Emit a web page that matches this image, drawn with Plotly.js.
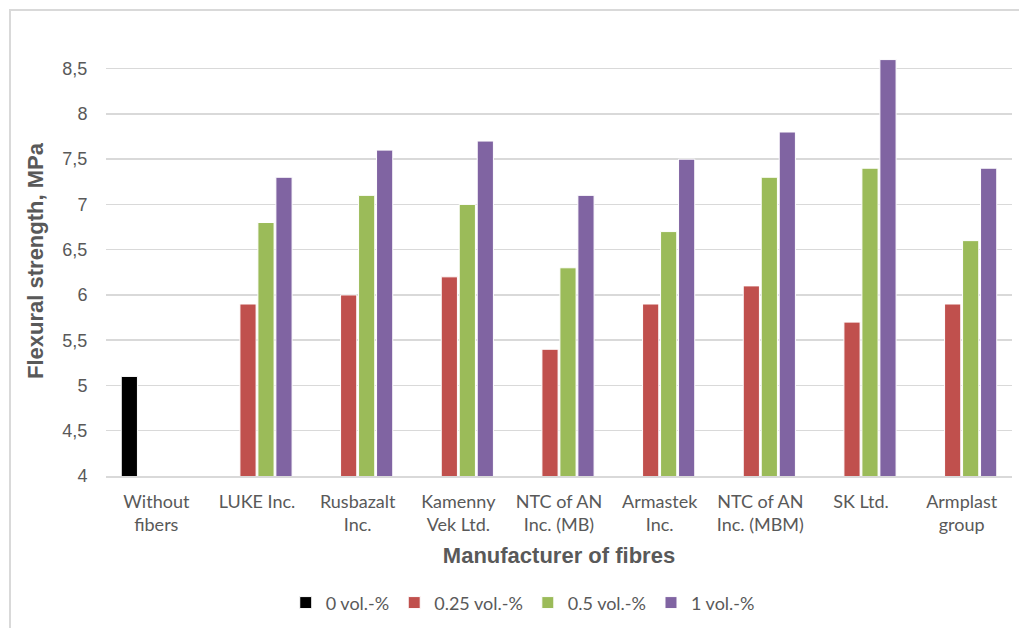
<!DOCTYPE html>
<html>
<head>
<meta charset="utf-8">
<script src="https://cdn.plot.ly/plotly-3.0.1.min.js"></script>
<style>html,body{margin:0;padding:0;background:#fff;}#chart{width:1019px;height:628px;}</style>
</head>
<body>
<div id="chart"></div>
<script>
const categories = ["Without<br>fibers", "LUKE Inc.", "Rusbazalt<br>Inc.", "Kamenny<br>Vek Ltd.", "NTC of AN<br>Inc. (MB)", "Armastek<br>Inc.", "NTC of AN<br>Inc. (MBM)", "SK Ltd.", "Armplast<br>group"];
const seriesNames = ["0 vol.-%", "0.25 vol.-%", "0.5 vol.-%", "1 vol.-%"];
const vol0   = [5.1, null, null, null, null, null, null, null, null];
const vol025 = [null, 5.9, 6.0, 6.2, 5.4, 5.9, 6.1, 5.7, 5.9];
const vol05  = [null, 6.8, 7.1, 7.0, 6.3, 6.7, 7.3, 7.4, 6.6];
const vol1   = [null, 7.3, 7.6, 7.7, 7.1, 7.5, 7.8, 8.6, 7.4];
const yTicks = [4, 4.5, 5, 5.5, 6, 6.5, 7, 7.5, 8, 8.5];
const colors = ["#000000", "#C0504D", "#9BBB59", "#8064A2"];

const allSeries = [vol0, vol025, vol05, vol1];
const traces = allSeries.map((vals, i) => ({
  type: "bar",
  name: seriesNames[i],
  x: categories,
  y: vals,
  base: 0,
  marker: {color: colors[i], line: {color: "#ffffff", width: 1}},
  hoverinfo: "x+y+name"
}));

const mL = 106, mR = 7, mT = 46, mB = 152, W = 1019, H = 628;
const pw = W - mL - mR, ph = H - mT - mB;
const px = v => (v - mL) / pw;
const py = v => (H - mB - v) / ph;

const layout = {
  width: W, height: H,
  margin: {l: mL, r: mR, t: mT, b: mB, pad: 0},
  paper_bgcolor: "#ffffff",
  plot_bgcolor: "#ffffff",
  separators: ", ",
  barmode: "group",
  bargap: 0.285,
  bargroupgap: 0.1,
  font: {family: "Lato, 'Liberation Sans', sans-serif", color: "#595959"},
  xaxis: {
    type: "category",
    tickfont: {family: "Lato, sans-serif", size: 18, color: "#595959"},
    ticks: "outside", ticklen: 8, tickcolor: "rgba(0,0,0,0)",
    showline: true, linecolor: "#d9d9d9", linewidth: 2,
    showgrid: false, zeroline: false,
    title: {text: "Manufacturer of fibres", font: {family: "'Liberation Sans', Arial, sans-serif", size: 22, color: "#595959", weight: "bold"}, standoff: 14}
  },
  yaxis: {
    range: [4, 8.75],
    tickvals: yTicks,
    tickfont: {family: "'Liberation Sans', Arial, sans-serif", size: 18, color: "#595959"},
    ticks: "outside", ticklen: 14, tickcolor: "rgba(0,0,0,0)",
    showgrid: true, gridcolor: "#d9d9d9", gridwidth: 1.5,
    zeroline: false, showline: false,
    title: {text: "Flexural strength, MPa", font: {family: "'Liberation Sans', Arial, sans-serif", size: 22, color: "#595959", weight: "bold"}, standoff: 12}
  },
  legend: {
    orientation: "h",
    xref: "container", yref: "container",
    x: 0.513, xanchor: "center",
    y: 0.04, yanchor: "middle",
    font: {family: "Lato, sans-serif", size: 18, color: "#595959"},
    itemwidth: 30,
    traceorder: "normal"
  },
  shapes: [{
    type: "rect", xref: "paper", yref: "paper",
    x0: px(10), x1: px(1030), y0: py(640), y1: py(10),
    line: {color: "#d9d9d9", width: 2}, fillcolor: "rgba(0,0,0,0)", layer: "below"
  }],
  showlegend: true
};

Plotly.newPlot("chart", traces, layout, {displayModeBar: false, staticPlot: true});
</script>
</body>
</html>
